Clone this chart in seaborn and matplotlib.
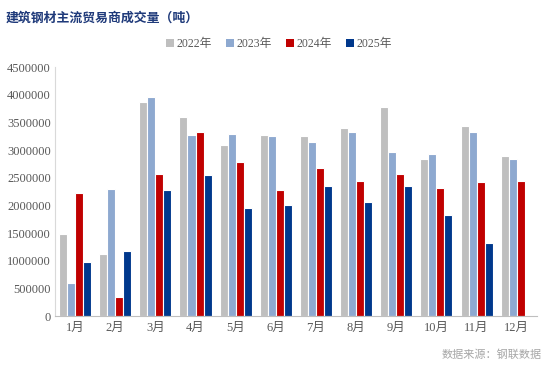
import matplotlib
matplotlib.use("Agg")
import matplotlib.pyplot as plt
import seaborn as sns
import pandas as pd

months = ["1月", "2月", "3月", "4月", "5月", "6月", "7月", "8月", "9月", "10月", "11月", "12月"]
years = ["2022年", "2023年", "2024年", "2025年"]
v2022 = [1484000, 1120000, 3866000, 3595000, 3094000, 3275000, 3251000, 3400000, 3788000, 2835000, 3444000, 2889000]
v2023 = [590000, 2290000, 3957000, 3269000, 3293000, 3251000, 3148000, 3335000, 2967000, 2925000, 3335000, 2835000]
v2024 = [2220000, 344000, 2563000, 3335000, 2793000, 2274000, 2678000, 2437000, 2569000, 2316000, 2425000, 2437000]
v2025 = [970000, 1176000, 2274000, 2551000, 1948000, 2008000, 2352000, 2063000, 2352000, 1827000, 1315000, None]
colors = ["#BFBFBF", "#8EA9D0", "#C00000", "#00388C"]

rows = []
for y, vals in zip(years, [v2022, v2023, v2024, v2025]):
    for m, v in zip(months, vals):
        rows.append({"month": m, "year": y, "value": v})
df = pd.DataFrame(rows)

sns.set_style("white")
plt.rcParams["font.family"] = ["Liberation Serif", "Noto Sans CJK SC", "DejaVu Sans"]

fig = plt.figure(figsize=(5.5, 3.71), dpi=100)
ax = fig.add_axes([0.1, 0.148, 0.876, 0.671])
sns.barplot(data=df, x="month", y="value", hue="year", order=months, hue_order=years,
            palette=colors, saturation=1, width=0.8, edgecolor="white", linewidth=0.8,
            ax=ax, legend=True)

ax.set_xlim(-0.5, 11.5)
ax.set_ylim(0, 4500000)
ax.set_yticks(range(0, 4500001, 500000))
ax.set_yticklabels([str(t) for t in range(0, 4500001, 500000)])
ax.set_xlabel("")
ax.set_ylabel("")
ax.tick_params(axis="both", labelsize=9, colors="#595959", length=0)
ax.tick_params(axis="y", pad=3)
ax.tick_params(axis="x", pad=4)
for s in ["top", "right"]:
    ax.spines[s].set_visible(False)
ax.spines["left"].set_color("#D9D9D9")
ax.spines["bottom"].set_color("#BFBFBF")
ax.grid(False)

leg = ax.legend(loc="center", bbox_to_anchor=(0.465, 1.092), ncol=4, frameon=False,
                fontsize=8.5, handlelength=0.7, handleheight=0.7, handletextpad=0.2,
                columnspacing=1.2, labelcolor="#595959")
for h in leg.legend_handles:
    h.set_edgecolor("none")

fig.text(0.01, 0.952, "建筑钢材主流贸易商成交量（吨）", fontsize=9.3, fontweight="bold",
         color="#1F3A7A", family=["Noto Sans CJK SC"], va="center", ha="left")
fig.text(0.985, 0.043, "数据来源：钢联数据", fontsize=8, color="#A6A6A6",
         family=["Noto Sans CJK SC"], ha="right", va="center")

fig.savefig("out.png", dpi=100)
